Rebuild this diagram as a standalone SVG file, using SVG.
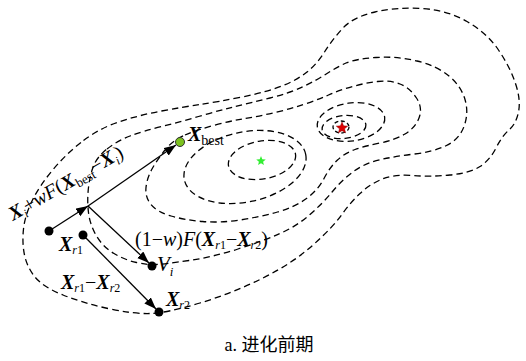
<svg xmlns="http://www.w3.org/2000/svg" width="526" height="361" viewBox="0 0 526 361">
<style>
.contour{fill:none;stroke:#000;stroke-width:1.3;stroke-dasharray:6.5 4}
.conn{stroke:#000;stroke-width:1.3;fill:none}
.dot{fill:#000}
text{font-family:"Liberation Serif","Times New Roman",serif;fill:#000}
.bi{font-weight:bold;font-style:italic}
.it{font-style:italic}
</style>
<defs>
<marker id="ah" markerUnits="userSpaceOnUse" markerWidth="13" markerHeight="10" refX="12" refY="4.5" orient="auto">
<path d="M0,0 L12,4.5 L0,9 Z" fill="#000"/>
</marker>
<path id="star" d="M0,-5 L1.29,-1.78 L4.76,-1.55 L2.09,0.68 L2.94,4.05 L0,2.2 L-2.94,4.05 L-2.09,0.68 L-4.76,-1.55 L-1.29,-1.78 Z"/>
</defs>
<rect width="526" height="361" fill="#fff"/>
<g id="contours">
<path class="contour" d="M83.5,140.5 Q100,128 120,121.5 Q140,115 161.5,111 Q183,107 200,104.5 Q217,102 242,97 Q267,92 282,86 Q297,80 307,72 Q317,64 324.5,52 Q332,40 342.5,28.5 Q353,17 375,12 Q397,7 422,8.5 Q447,10 467,21.5 Q487,33 498.5,50 Q510,67 515.5,83.5 Q521,100 518.5,112 Q516,124 509,130 Q502,136 496,148 Q490,160 480,166.5 Q470,173 450,175 Q430,177 412.5,175.5 Q395,174 382.5,179 Q370,184 360,193.5 Q350,203 341.5,215 Q333,227 313,245 Q293,263 263,278 Q233,293 200,303 Q167,313 150,313.5 Q133,314 108,308.5 Q83,303 63,295 Q43,287 35,277 Q27,267 24.5,255 Q22,243 23.5,229 Q25,215 32.5,200 Q40,185 53.5,169 Q67,153 83.5,140.5 Z"/>
<path class="contour" d="M107,149 Q117,141 130,136 Q143,131 161.5,126.5 Q180,122 198.5,116.5 Q217,111 233.5,107 Q250,103 270,98 Q290,93 303.5,86.5 Q317,80 327,73.5 Q337,67 346,63 Q355,59 376,57.5 Q397,56 417,61 Q437,66 449,76 Q461,86 465,99.5 Q469,113 464,126.5 Q459,140 445.5,146 Q432,152 414.5,154 Q397,156 381,159.5 Q365,163 353.5,171.5 Q342,180 332.5,191.5 Q323,203 310,214.5 Q297,226 280,233.5 Q263,241 238,249 Q213,257 189,260.5 Q165,264 156.5,264.5 Q148,265 136.5,262.5 Q125,260 114,253.5 Q103,247 96.5,236 Q90,225 88.5,212.5 Q87,200 88.5,187.5 Q90,175 93.5,166 Q97,157 107,149 Z"/>
<path class="contour" d="M185,135 Q197,130 213.5,125.5 Q230,121 245,118.5 Q260,116 275,112.5 Q290,109 303.5,104.5 Q317,100 328.5,95 Q340,90 352.5,86.5 Q365,83 377.5,81.5 Q390,80 400,84 Q410,88 416.5,98 Q423,108 419,118 Q415,128 405,134 Q395,140 380,143 Q365,146 355,149.5 Q345,153 337.5,160 Q330,167 324,178.5 Q318,190 306.5,198.5 Q295,207 277.5,212 Q260,217 240,220 Q220,223 202.5,221.5 Q185,220 171,216 Q157,212 151,204.5 Q145,197 146,187.5 Q147,178 152,169 Q157,160 165,150 Q173,140 185,135 Z"/>
<ellipse class="contour" cx="245" cy="167" rx="62" ry="35" transform="rotate(-12 245 167)"/>
<ellipse class="contour" cx="262" cy="160" rx="34" ry="19" transform="rotate(-10 262 160)"/>
<ellipse class="contour" cx="351" cy="122" rx="34" ry="19" transform="rotate(-8 351 122)"/>
<ellipse class="contour" cx="344" cy="127" rx="22" ry="11.5" transform="rotate(-6 344 127)"/>
<ellipse class="contour" cx="341" cy="127" rx="8" ry="6" style="stroke-dasharray:4 2.5"/>
</g>
<g id="optima">
<use href="#star" transform="translate(261,161)" fill="#33ee33"/>
<use href="#star" transform="translate(342,128) scale(1.2)" fill="#dd0000" stroke="#880000" stroke-width="0.4"/>
</g>
<g id="connectors">
<line class="conn" x1="49" y1="231" x2="88" y2="206" marker-end="url(#ah)"/>
<line class="conn" x1="88" y1="206" x2="176" y2="145" marker-end="url(#ah)"/>
<line class="conn" x1="88" y1="206" x2="149" y2="263" marker-end="url(#ah)"/>
<line class="conn" x1="83" y1="235" x2="156" y2="309" marker-end="url(#ah)"/>
</g>
<g id="Xi">
<circle class="dot" cx="49" cy="231" r="4.5"/>
<text transform="translate(13,221) rotate(-30)" font-size="20"><tspan class="bi">X</tspan><tspan class="it" font-size="12" dy="4">i</tspan><tspan dy="-4">+</tspan><tspan class="it">wF</tspan><tspan>(</tspan><tspan class="bi">X</tspan><tspan font-size="13" dy="4">best</tspan><tspan dy="-4">−</tspan><tspan class="bi">X</tspan><tspan class="it" font-size="12" dy="4">i</tspan><tspan dy="-4">)</tspan></text>
</g>
<g id="Xbest">
<circle cx="180" cy="142" r="4.5" fill="#7cc21e" stroke="#333" stroke-width="1"/>
<text x="188" y="141" font-size="20"><tspan class="bi">X</tspan><tspan font-size="14" dy="4">best</tspan></text>
</g>
<g id="Xr1">
<circle class="dot" cx="83" cy="235" r="4.5"/>
<text x="59" y="251" font-size="20"><tspan class="bi">X</tspan><tspan font-size="12" dy="3"><tspan class="it">r</tspan>1</tspan></text>
</g>
<g id="Vi">
<circle class="dot" cx="152" cy="266" r="4.5"/>
<text x="157" y="271" font-size="21"><tspan class="it">V</tspan><tspan class="it" font-size="13" dy="5">i</tspan></text>
</g>
<g id="Xr2">
<circle class="dot" cx="159" cy="312" r="4.5"/>
<text x="166" y="306" font-size="20"><tspan class="bi">X</tspan><tspan font-size="12" dy="3"><tspan class="it">r</tspan>2</tspan></text>
</g>
<g id="labels">
<text x="135" y="246" font-size="20">(1−<tspan class="it">w</tspan>)<tspan class="it">F</tspan>(<tspan class="bi">X</tspan><tspan font-size="12" dy="3"><tspan class="it">r</tspan>1</tspan><tspan dy="-3">−</tspan><tspan class="bi">X</tspan><tspan font-size="12" dy="3"><tspan class="it">r</tspan>2</tspan><tspan dy="-3">)</tspan></text>
<text x="61" y="289" font-size="20"><tspan class="bi">X</tspan><tspan font-size="12" dy="3"><tspan class="it">r</tspan>1</tspan><tspan dy="-3">−</tspan><tspan class="bi">X</tspan><tspan font-size="12" dy="3"><tspan class="it">r</tspan>2</tspan></text>
<text x="269" y="351" font-size="18" text-anchor="middle" style="font-family:'Liberation Serif','Noto Sans CJK SC',serif">a. 进化前期</text>
</g>
</svg>
